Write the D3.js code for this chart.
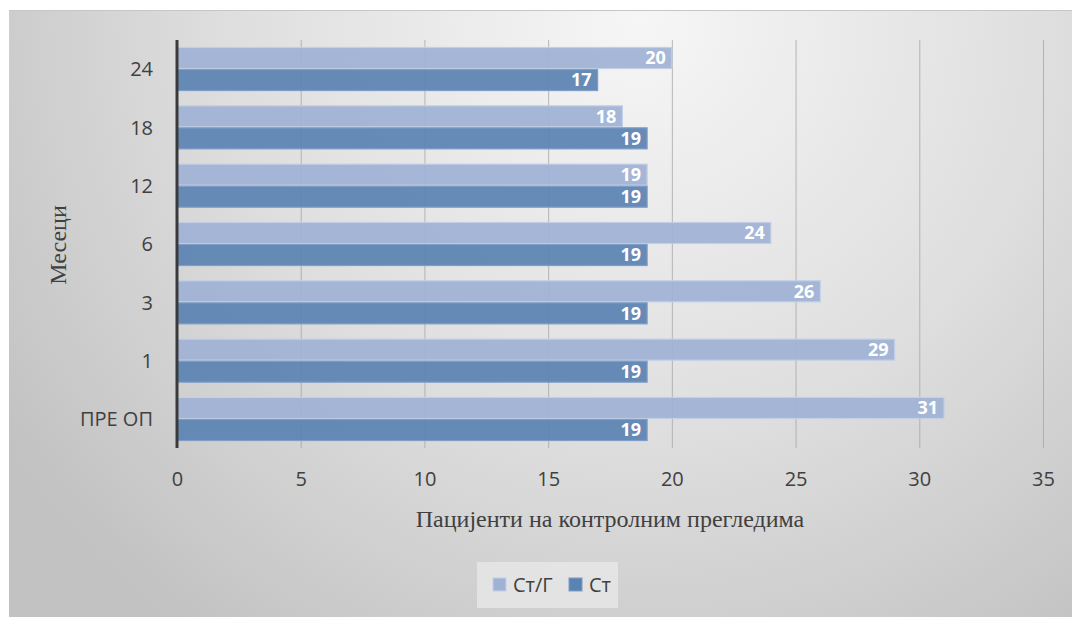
<!DOCTYPE html>
<html>
<head>
<meta charset="utf-8">
<script src="https://cdn.jsdelivr.net/npm/d3@7"></script>
<style>
  html, body { margin: 0; padding: 0; background: #ffffff; }
  svg { display: block; }
</style>
</head>
<body>
<svg id="chart" width="1072" height="617"></svg>
<script>
// Follow-up periods (months), listed bottom to top as on the axis
const categories = ["ПРЕ ОП", "1", "3", "6", "12", "18", "24"];
const seriesNames = ["Ст/Г", "Ст"];
const valuesStG = [31, 29, 26, 24, 19, 18, 20];
const valuesSt = [19, 19, 19, 19, 19, 19, 17];
const xTicks = [0, 5, 10, 15, 20, 25, 30, 35];
const seriesColors = ["#9fb2d4", "#5b83b1"];
const seriesStroke = ["#c3cfe6", "#7f9dc6"];

const W = 1072, H = 617;
const svg = d3.select("#chart");

// Background panel with soft grey radial shading
const defs = svg.append("defs");
const grad = defs.append("radialGradient")
  .attr("id", "bg").attr("gradientUnits", "userSpaceOnUse")
  .attr("cx", 640).attr("cy", 20).attr("r", 760);
grad.append("stop").attr("offset", "0%").attr("stop-color", "#f6f6f6");
grad.append("stop").attr("offset", "55%").attr("stop-color", "#dedede");
grad.append("stop").attr("offset", "100%").attr("stop-color", "#c2c2c2");

svg.append("rect").attr("x", 9).attr("y", 10).attr("width", W - 9).attr("height", H - 10)
  .attr("fill", "url(#bg)");
svg.append("line").attr("x1", 9).attr("x2", W).attr("y1", 10.5).attr("y2", 10.5)
  .attr("stroke", "#c6c6c6").attr("stroke-width", 1);

const plot = { left: 177, right: 1043, top: 40, bottom: 448 };

const x = d3.scaleLinear().domain([0, 35]).range([plot.left, plot.right]);
const y = d3.scaleBand().domain(categories.slice().reverse())
  .range([plot.top, plot.bottom]).paddingInner(0.245).paddingOuter(0.12);
const ySub = d3.scaleBand().domain(seriesNames).range([0, y.bandwidth()]);

// Vertical gridlines
svg.append("g").selectAll("line").data(xTicks.filter(t => t > 0)).join("line")
  .attr("x1", d => x(d) + 0.5).attr("x2", d => x(d) + 0.5)
  .attr("y1", plot.top).attr("y2", plot.bottom)
  .attr("stroke", "#a8a8a8").attr("stroke-width", 1).attr("opacity", 0.8);

const rows = categories.map((c, i) => ({ cat: c, vals: [valuesStG[i], valuesSt[i]] }));

const groups = svg.append("g").selectAll("g").data(rows).join("g")
  .attr("transform", d => `translate(0,${y(d.cat)})`);

groups.selectAll("rect").data(d => d.vals.map((v, j) => ({ v, j }))).join("rect")
  .attr("x", x(0))
  .attr("y", d => ySub(seriesNames[d.j]) + 0.5)
  .attr("width", d => x(d.v) - x(0))
  .attr("height", ySub.bandwidth() - 1)
  .attr("fill", d => seriesColors[d.j])
  .attr("fill-opacity", 0.93)
  .attr("stroke", d => seriesStroke[d.j])
  .attr("stroke-width", 1.2);

// Value labels inside the bar ends
groups.selectAll("text").data(d => d.vals.map((v, j) => ({ v, j }))).join("text")
  .attr("x", d => x(d.v) - 6)
  .attr("y", d => ySub(seriesNames[d.j]) + ySub.bandwidth() / 2)
  .attr("dy", "0.36em")
  .attr("text-anchor", "end")
  .attr("font-family", "'Open Sans', sans-serif")
  .attr("font-weight", "bold")
  .attr("font-size", 18)
  .attr("fill", "#ffffff")
  .text(d => d.v);

// Category axis line
svg.append("line").attr("x1", x(0)).attr("x2", x(0))
  .attr("y1", plot.top).attr("y2", plot.bottom)
  .attr("stroke", "#3a3a3a").attr("stroke-width", 3);

// Category labels
const yAxis = svg.append("g").attr("transform", `translate(${plot.left - 24},0)`)
  .call(d3.axisLeft(y).tickSize(0).tickPadding(0));
yAxis.select(".domain").remove();
yAxis.selectAll("text")
  .attr("font-family", "'Open Sans', sans-serif").attr("font-size", 20)
  .attr("fill", "#404040").attr("dy", "0.36em");

// Value axis labels
const xAxis = svg.append("g").attr("transform", `translate(0,${plot.bottom})`)
  .call(d3.axisBottom(x).tickValues(xTicks).tickSize(0).tickPadding(24));
xAxis.select(".domain").remove();
xAxis.selectAll("text")
  .attr("font-family", "'Open Sans', sans-serif").attr("font-size", 20)
  .attr("fill", "#404040");

// Axis titles
svg.append("text").attr("x", 610).attr("y", 527).attr("text-anchor", "middle")
  .attr("font-family", "'Liberation Serif', serif").attr("font-size", 24)
  .attr("fill", "#404040").text("Пацијенти на контролним прегледима");

svg.append("text").attr("transform", "translate(66,245) rotate(-90)")
  .attr("text-anchor", "middle")
  .attr("font-family", "'Liberation Serif', serif").attr("font-size", 24)
  .attr("fill", "#404040").text("Месеци");

// Legend
const legend = svg.append("g");
legend.append("rect").attr("x", 477).attr("y", 562).attr("width", 141).attr("height", 46)
  .attr("fill", "#e6e6e6").attr("opacity", 0.85);
const legendX = [493, 569];
seriesNames.forEach((name, j) => {
  legend.append("rect").attr("x", legendX[j]).attr("y", 578).attr("width", 13).attr("height", 13)
    .attr("fill", seriesColors[j]).attr("stroke", seriesStroke[j]).attr("stroke-width", 1);
  legend.append("text").attr("x", legendX[j] + 20).attr("y", 585).attr("dy", "0.36em")
    .attr("font-family", "'Open Sans', sans-serif").attr("font-size", 20)
    .attr("fill", "#404040").text(name);
});
</script>
</body>
</html>
